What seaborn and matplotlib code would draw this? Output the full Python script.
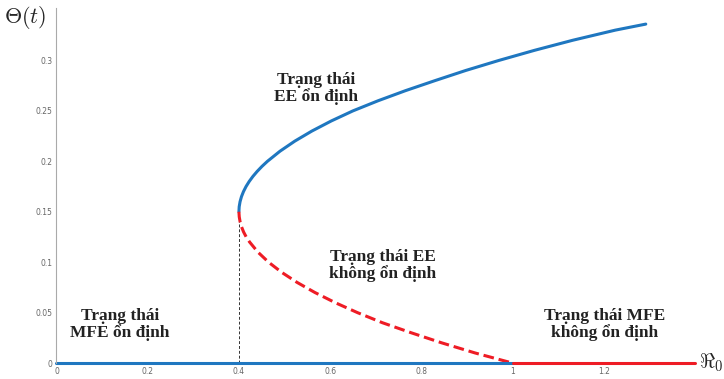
import numpy as np
import pandas as pd
import matplotlib
matplotlib.use("Agg")
import matplotlib.pyplot as plt
import seaborn as sns

# ---- data ----
upper_y = [0.150, 0.155, 0.160, 0.165, 0.170, 0.175, 0.180, 0.185, 0.190, 0.195,
           0.200, 0.210, 0.220, 0.230, 0.240, 0.250, 0.260, 0.270, 0.280, 0.290,
           0.300, 0.310, 0.320, 0.330, 0.336]
upper_x = [0.400, 0.4006, 0.4025, 0.4056, 0.410, 0.4156, 0.4225, 0.4306, 0.440, 0.4506,
           0.4625, 0.490, 0.5225, 0.560, 0.6025, 0.650, 0.705, 0.765, 0.830, 0.897,
           0.970, 1.048, 1.132, 1.225, 1.292]
lower_y = [0.150, 0.145, 0.140, 0.135, 0.130, 0.125, 0.120, 0.110, 0.100, 0.090,
           0.080, 0.070, 0.060, 0.050, 0.040, 0.030, 0.020, 0.010, 0.000]
lower_x = [0.400, 0.4007, 0.4026, 0.4058, 0.4102, 0.416, 0.4234, 0.4416, 0.465, 0.4936,
           0.5274, 0.5664, 0.6106, 0.660, 0.7146, 0.778, 0.845, 0.918, 1.000]
dfe_stable_x = [0.0, 1.0]
dfe_stable_y = [0.0, 0.0]
dfe_unstable_x = [1.0, 1.4]
dfe_unstable_y = [0.0, 0.0]
xticks = [0, 0.2, 0.4, 0.6, 0.8, 1.0, 1.2]
xtick_labels = ["0", "0.2", "0.4", "0.6", "0.8", "1", "1.2"]
yticks = [0, 0.05, 0.1, 0.15, 0.2, 0.25, 0.3]
ytick_labels = ["0", "0.05", "0.1", "0.15", "0.2", "0.25", "0.3"]
labels = ["Trạng thái\nMFE ổn định", "Trạng thái\nEE ổn định",
          "Trạng thái EE\nkhông ổn định", "Trạng thái MFE\nkhông ổn định"]
label_pos = [(0.139, 0.038), (0.57, 0.272), (0.715, 0.097), (1.201, 0.038)]

sns.set_theme(style="white")
plt.rcParams["mathtext.fontset"] = "cm"

fig = plt.figure(figsize=(7.24, 3.79), dpi=100)
ax = fig.add_axes([0.078, 0.042, 0.882, 0.937])

blue = "#1f77c0"
red = "#ee1c25"
LW = 2.2

sns.lineplot(x=upper_x, y=upper_y, ax=ax, color=blue, lw=LW, sort=False, estimator=None,
             clip_on=False)
sns.lineplot(x=lower_x, y=lower_y, ax=ax, color=red, lw=LW, sort=False, estimator=None,
             linestyle=(0, (3.5, 1.6)), clip_on=False)
sns.lineplot(x=dfe_stable_x, y=dfe_stable_y, ax=ax, color=blue, lw=LW, sort=False,
             estimator=None, clip_on=False)
sns.lineplot(x=dfe_unstable_x, y=dfe_unstable_y, ax=ax, color=red, lw=LW, sort=False,
             estimator=None, clip_on=False)
ax.plot([upper_x[0], upper_x[0]], [0, upper_y[0]], color="#333333", lw=0.7,
        linestyle=(0, (3, 2)), zorder=1)

ax.set_xlim(0, 1.4)
ax.set_ylim(0, 0.352)
ax.set_xticks(xticks)
ax.set_xticklabels(xtick_labels)
ax.set_yticks(yticks)
ax.set_yticklabels(ytick_labels)
ax.tick_params(axis="both", direction="in", length=3, width=0.5, color="#999999",
               labelsize=5.5, labelcolor="#666666", pad=3)
for s in ["top", "right"]:
    ax.spines[s].set_visible(False)
ax.spines["left"].set_color("#aaaaaa")
ax.spines["left"].set_linewidth(0.8)
ax.spines["bottom"].set_visible(False)

fig.text(0.006, 0.955, r"$\Theta(t)$", fontsize=16, ha="left", va="center")
fig.text(0.965, 0.042, r"$\Re_0$", fontsize=15, ha="left", va="center")

for t, (x, y) in zip(labels, label_pos):
    ax.text(x, y, t, ha="center", va="center", fontsize=12.5, fontweight="bold",
            family="Liberation Serif", color="#222222", linespacing=1.0)

fig.savefig("out.png", dpi=100)
